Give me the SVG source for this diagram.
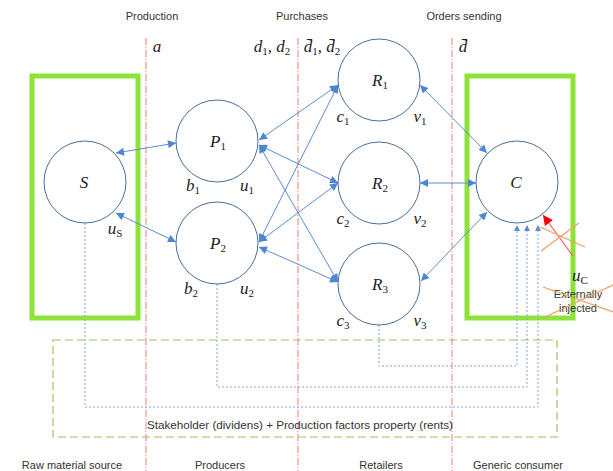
<svg xmlns="http://www.w3.org/2000/svg" width="613" height="471" viewBox="0 0 613 471">
<style>
.lbl{font-family:"Liberation Sans",Arial,sans-serif;font-size:11px;fill:#333;text-anchor:middle}
.m{font-family:"Liberation Serif","DejaVu Serif",serif;font-style:italic;font-size:17px;fill:#222;text-anchor:middle}
.sub{font-style:normal;font-size:11px}
.node{fill:#fff;stroke:#4a6f9c;stroke-width:1}
.conn{stroke:#5b8ed0;stroke-width:1;fill:none;marker-start:url(#ah);marker-end:url(#ah)}
.fb{stroke:#7fa7dc;stroke-width:1;fill:none;stroke-dasharray:2,2;marker-end:url(#ahs)}
.sep{stroke:#f07878;stroke-width:1;stroke-dasharray:7,2,1,2;fill:none}
.gbox{fill:none;stroke:#8ee33a;stroke-width:5}
.orange{stroke:#f0a060;stroke-width:1.3;fill:none}
</style>
<defs>
<marker id="ah" viewBox="0 0 10 10" refX="10" refY="5" markerWidth="9" markerHeight="8" markerUnits="userSpaceOnUse" orient="auto-start-reverse">
<path d="M0,0 L10,5 L0,10 z" fill="#4f86cf"/>
</marker>
<marker id="ahs" viewBox="0 0 10 10" refX="10" refY="5" markerWidth="6" markerHeight="6" markerUnits="userSpaceOnUse" orient="auto">
<path d="M0,0 L10,5 L0,10 z" fill="#5b8ed0"/>
</marker>
<marker id="ahr" viewBox="0 0 10 10" refX="10" refY="5" markerWidth="11" markerHeight="10" markerUnits="userSpaceOnUse" orient="auto">
<path d="M0,0 L10,5 L0,10 z" fill="#ff0000"/>
</marker>
</defs>
<rect width="613" height="471" fill="#fff"/>

<g id="separators">
<line class="sep" x1="146" y1="38" x2="146" y2="471"/>
<line class="sep" x1="298" y1="38" x2="298" y2="471"/>
<line class="sep" x1="452" y1="38" x2="452" y2="471"/>
</g>

<g id="headers">
<text class="lbl" x="152" y="20">Production</text>
<text class="lbl" x="302" y="20">Purchases</text>
<text class="lbl" x="464" y="20">Orders sending</text>
<text class="m" x="157" y="52">a</text>
<text class="m" x="272" y="52">d<tspan class="sub" dy="3">1</tspan><tspan dy="-3" font-style="normal">, </tspan>d<tspan class="sub" dy="3">2</tspan></text>
<text class="m" x="322" y="52">d̄<tspan class="sub" dy="3">1</tspan><tspan dy="-3" font-style="normal">, </tspan>d̄<tspan class="sub" dy="3">2</tspan></text>
<text class="m" x="463" y="52">d̄</text>
</g>

<g id="footers">
<text class="lbl" x="72" y="469">Raw material source</text>
<text class="lbl" x="220" y="469">Producers</text>
<text class="lbl" x="381" y="469">Retailers</text>
<text class="lbl" x="518" y="469">Generic consumer</text>
</g>

<g id="source-box"><rect class="gbox" x="32" y="76" width="106" height="242"/></g>
<g id="consumer-box"><rect class="gbox" x="467" y="76" width="106" height="242"/></g>

<g id="stakeholder-box">
<rect x="53" y="340" width="504" height="97" fill="none" stroke="#9cc45a" stroke-width="1.2" stroke-dasharray="8,4"/>
<text class="lbl" x="300" y="429" textLength="306" lengthAdjust="spacingAndGlyphs">Stakeholder (dividens) + Production factors property (rents)</text>
</g>

<g id="connectors">
<line class="conn" x1="116" y1="153" x2="176" y2="143"/>
<line class="conn" x1="116" y1="213" x2="176" y2="242"/>
<line class="conn" x1="259" y1="140" x2="338" y2="85"/>
<line class="conn" x1="259" y1="145" x2="338" y2="183"/>
<line class="conn" x1="259" y1="145" x2="338" y2="282"/>
<line class="conn" x1="259" y1="242" x2="338" y2="85"/>
<line class="conn" x1="259" y1="242" x2="338" y2="183"/>
<line class="conn" x1="259" y1="247" x2="338" y2="282"/>
<line class="conn" x1="420" y1="85" x2="487" y2="153"/>
<line class="conn" x1="420" y1="183" x2="476" y2="183"/>
<line class="conn" x1="421" y1="281" x2="487" y2="212"/>
<path class="fb" d="M85,223 V407 H538 V225"/>
<path class="fb" d="M217,284 V387 H527 V225"/>
<path class="fb" d="M379,325 V366 H517 V225"/>
<line x1="573" y1="256" x2="543" y2="215" stroke="#f06060" stroke-width="1.2" marker-end="url(#ahr)"/>
</g>

<g id="S"><circle class="node" cx="85" cy="182" r="41"/><text class="m" x="84" y="188">S</text>
<text class="m" x="115" y="234">u<tspan class="sub" font-style="italic" dy="3">S</tspan></text></g>
<g id="P1"><circle class="node" cx="217" cy="141" r="41"/><text class="m" x="218" y="147">P<tspan class="sub" dy="3">1</tspan></text>
<text class="m" x="193" y="191">b<tspan class="sub" dy="3">1</tspan></text><text class="m" x="247" y="191">u<tspan class="sub" dy="3">1</tspan></text></g>
<g id="P2"><circle class="node" cx="217" cy="243" r="41"/><text class="m" x="218" y="249">P<tspan class="sub" dy="3">2</tspan></text>
<text class="m" x="191" y="294">b<tspan class="sub" dy="3">2</tspan></text><text class="m" x="247" y="294">u<tspan class="sub" dy="3">2</tspan></text></g>
<g id="R1"><circle class="node" cx="379" cy="80" r="41"/><text class="m" x="380" y="86">R<tspan class="sub" dy="3">1</tspan></text>
<text class="m" x="343" y="122">c<tspan class="sub" dy="3">1</tspan></text><text class="m" x="420" y="122">v<tspan class="sub" dy="3">1</tspan></text></g>
<g id="R2"><circle class="node" cx="379" cy="183" r="41"/><text class="m" x="380" y="189">R<tspan class="sub" dy="3">2</tspan></text>
<text class="m" x="343" y="224">c<tspan class="sub" dy="3">2</tspan></text><text class="m" x="420" y="224">v<tspan class="sub" dy="3">2</tspan></text></g>
<g id="R3"><circle class="node" cx="379" cy="284" r="41"/><text class="m" x="380" y="290">R<tspan class="sub" dy="3">3</tspan></text>
<text class="m" x="343" y="326">c<tspan class="sub" dy="3">3</tspan></text><text class="m" x="420" y="326">v<tspan class="sub" dy="3">3</tspan></text></g>
<g id="C"><circle class="node" cx="517" cy="182" r="41"/><text class="m" x="516" y="188">C</text></g>

<g id="external">
<text class="m" x="580" y="281">u<tspan class="sub" font-style="italic" dy="3">C</tspan></text>
<text class="lbl" x="578" y="298" font-size="10">Externally</text>
<text class="lbl" x="578" y="312" font-size="10">injected</text>
<line class="orange" x1="540" y1="227" x2="585" y2="247"/>
<line class="orange" x1="541" y1="251" x2="579" y2="223"/>
<line class="orange" x1="543" y1="287" x2="613" y2="312"/>
<line class="orange" x1="543" y1="318" x2="613" y2="285"/>
</g>
</svg>
